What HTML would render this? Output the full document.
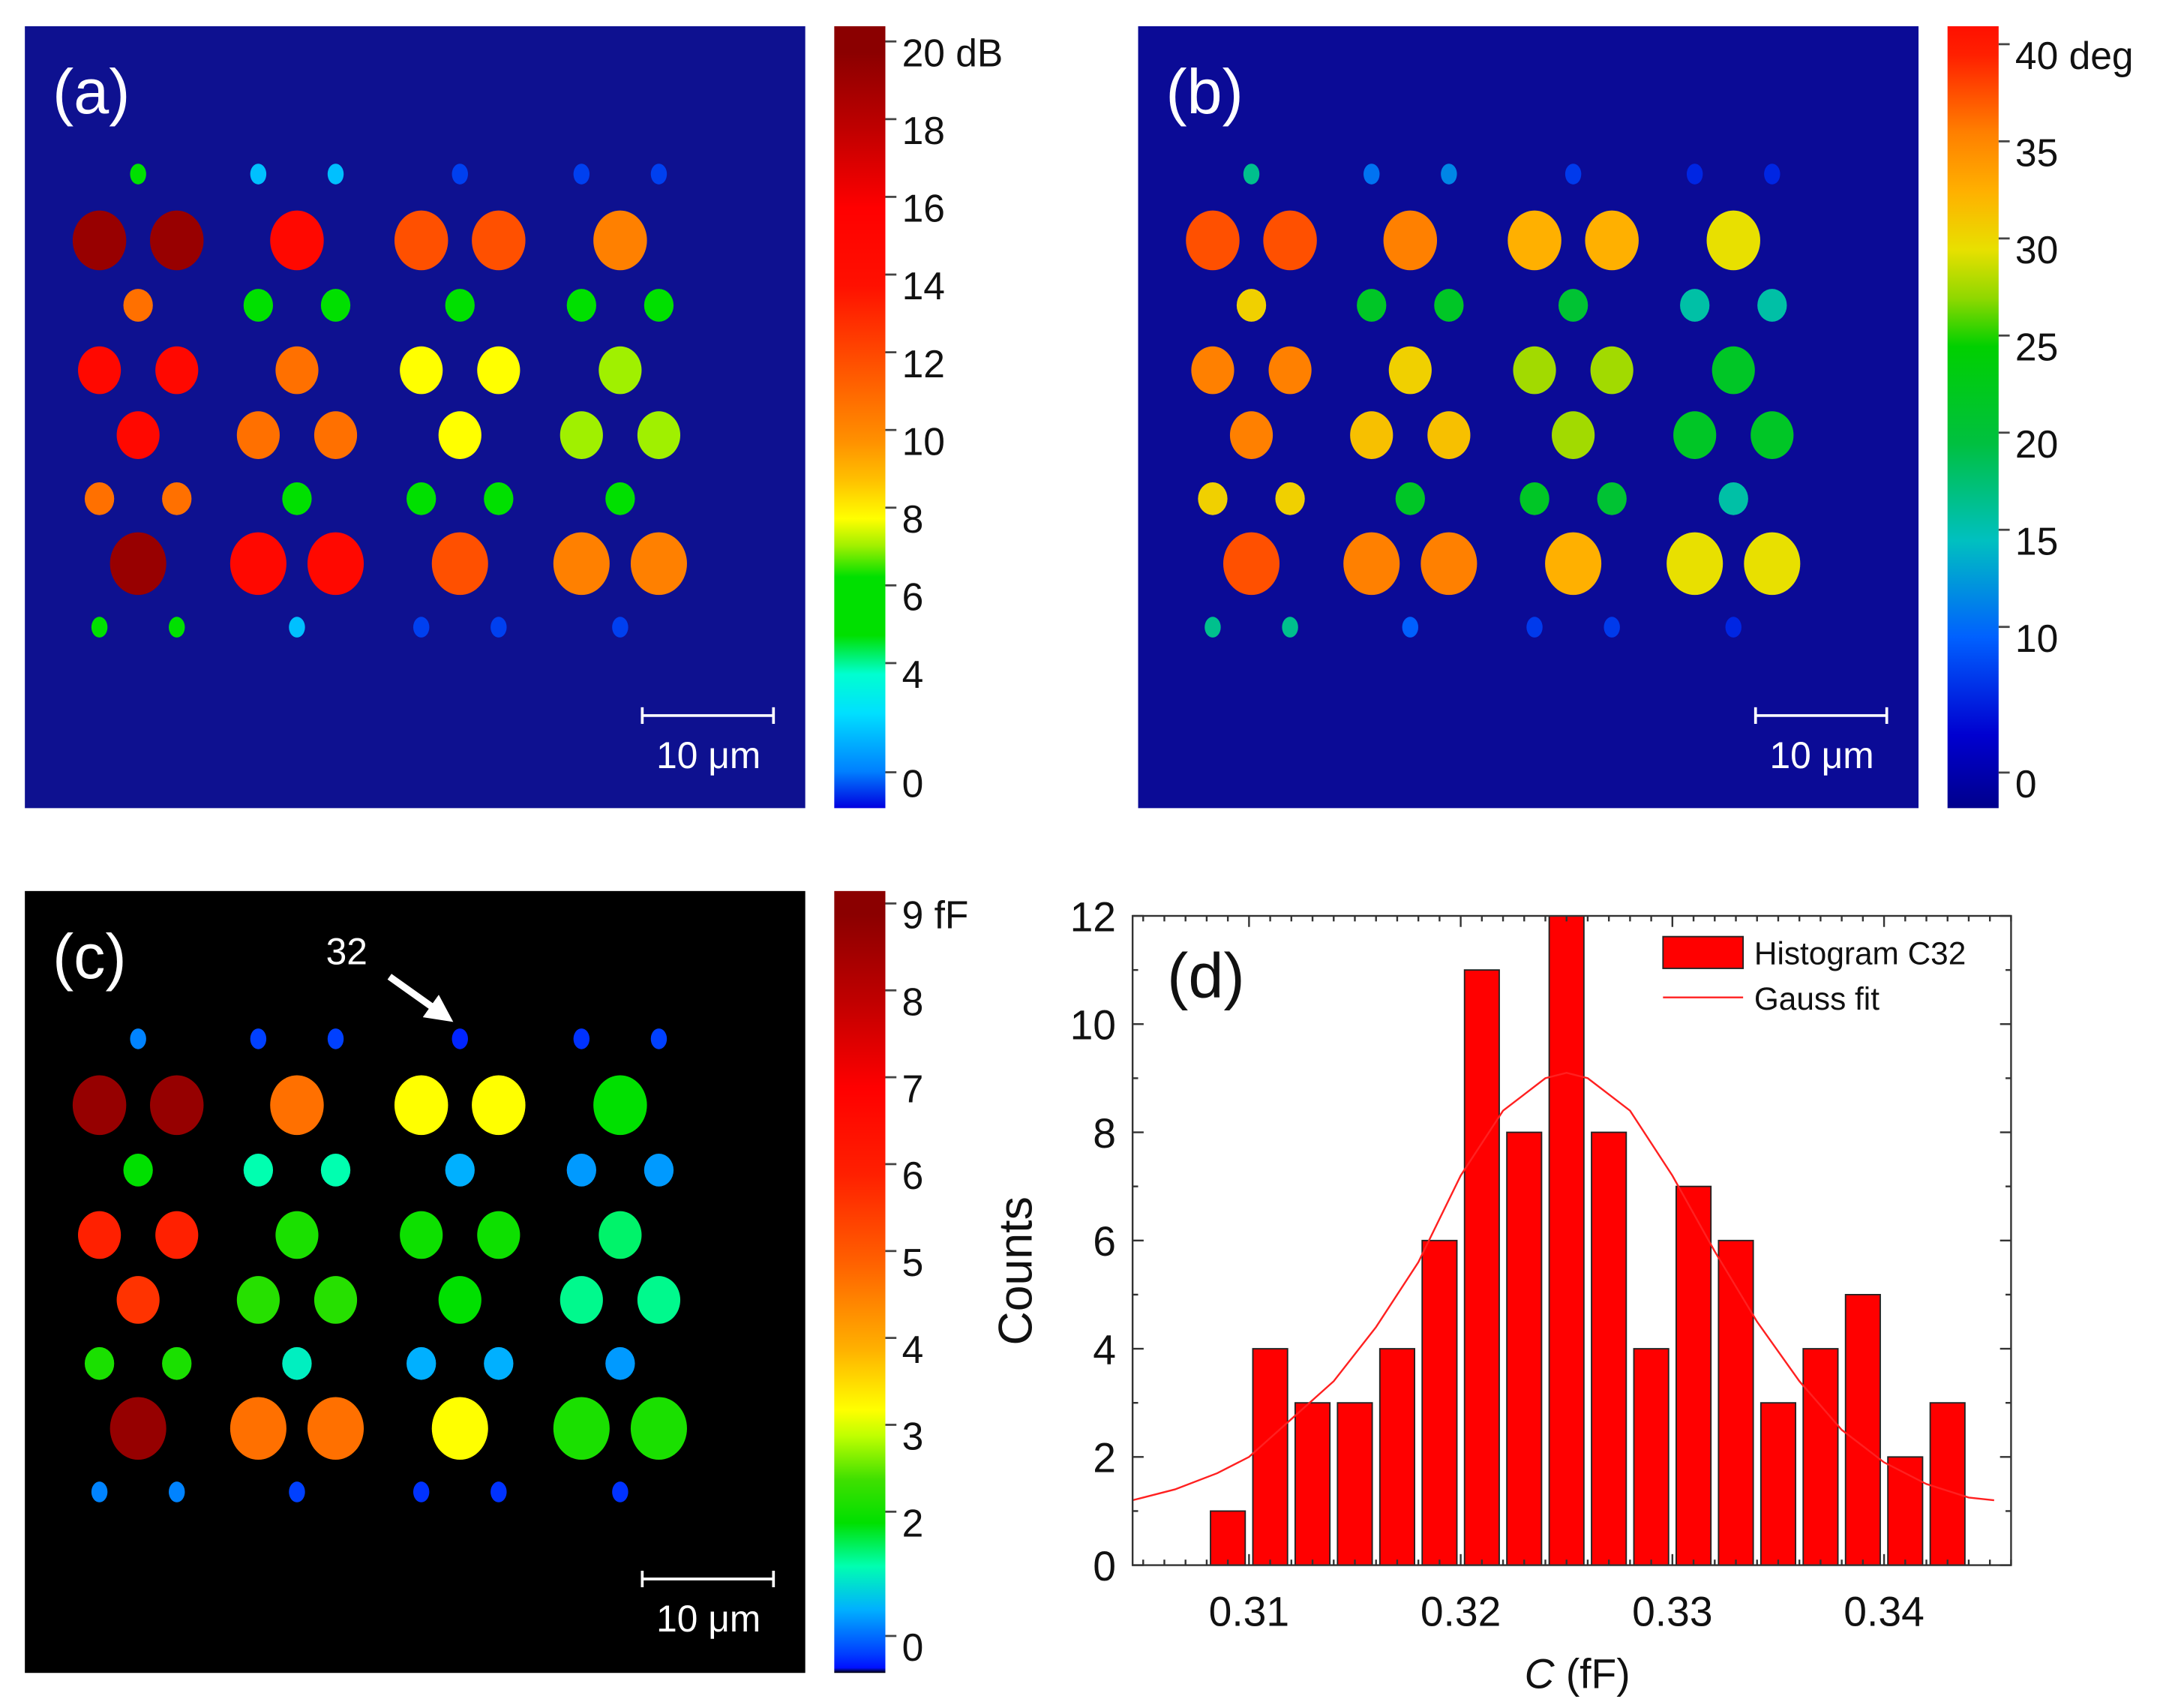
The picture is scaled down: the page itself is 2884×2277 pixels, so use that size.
<!DOCTYPE html>
<html><head><meta charset="utf-8"><style>
html,body{margin:0;padding:0;background:#fff;}
svg{display:block;}
text{font-family:"Liberation Sans",sans-serif;}
</style></head><body>
<svg id="fig" width="2884" height="2277" viewBox="0 0 1566 1236.4" preserveAspectRatio="none" xmlns="http://www.w3.org/2000/svg">
<defs>
<linearGradient id="ga" x1="0" y1="1" x2="0" y2="0"></linearGradient>
<linearGradient id="gb" x1="0" y1="1" x2="0" y2="0"></linearGradient>
<linearGradient id="gc" x1="0" y1="1" x2="0" y2="0"></linearGradient>
<marker id="ah" markerWidth="4" markerHeight="4" refX="2" refY="2" orient="auto"><path d="M0,0 L4,2 L0,4 z" fill="#fff"/></marker>
</defs>

<!-- panel a -->
<rect x="18" y="19" width="565" height="566" fill="#0e1190"/>
<g id="dots-a"></g>
<text x="38" y="82" font-size="46" fill="#fff">(a)</text>
<path d="M465,518 H560 M465,512 V524 M560,512 V524" stroke="#fff" stroke-width="2" fill="none"/>
<text x="513" y="556" font-size="27" fill="#fff" text-anchor="middle">10 μm</text>
<rect x="604" y="19" width="37" height="566" fill="url(#ga)"/>
<g id="cb-a-ticks"></g>

<!-- panel b -->
<rect x="824" y="19" width="565" height="566" fill="#0b0b96"/>
<g id="dots-b"></g>
<text x="844" y="82" font-size="46" fill="#fff">(b)</text>
<path d="M1271,518 H1366 M1271,512 V524 M1366,512 V524" stroke="#fff" stroke-width="2" fill="none"/>
<text x="1319" y="556" font-size="27" fill="#fff" text-anchor="middle">10 μm</text>
<rect x="1410" y="19" width="37" height="566" fill="url(#gb)"/>
<g id="cb-b-ticks"></g>

<!-- panel c -->
<rect x="18" y="645" width="565" height="566" fill="#000"/>
<g id="dots-c"></g>
<text x="38" y="708" font-size="46" fill="#fff">(c)</text>
<text x="236" y="698" font-size="27" fill="#fff">32</text>
<line x1="282" y1="707" x2="320" y2="734" stroke="#fff" stroke-width="5" marker-end="url(#ah)"/>
<path d="M465,1143 H560 M465,1137 V1149 M560,1137 V1149" stroke="#fff" stroke-width="2" fill="none"/>
<text x="513" y="1181" font-size="27" fill="#fff" text-anchor="middle">10 μm</text>
<rect x="604" y="645" width="37" height="566" fill="url(#gc)"/>
<g id="cb-c-ticks"></g>

<!-- panel d -->
<g id="hist"></g>
</svg>

<script>
// ---- map data ----
const dotRows = [126,174,221,268,315,361,408,454];
const dotCols = [
  [100,187,243,333,421,477],
  [72,128,215,305,361,449],
  [100,187,243,333,421,477],
  [72,128,215,305,361,449],
  [100,187,243,333,421,477],
  [72,128,215,305,361,449],
  [100,187,243,333,421,477],
  [72,128,215,305,361,449]
];
const dotSizes = [6,20,11,16,16,11,21,6];
const valuesA = [
  [5.5,2.5,2.5,1,1,1],
  [19.5,19.5,15,12,12,10.5],
  [11,6.5,6,5.5,5,5],
  [15,15,11,8,8,7.3],
  [15,11,11,8,7.3,7.3],
  [11,11,6,5.5,5.5,5],
  [19.5,15,15,12,10.5,10.5],
  [5.5,5.5,2.5,1,1,1]
];
const valuesB = [
  [17,11,12,8,7,7],
  [38,38,36,33,33,30],
  [31,22,22,21,16,16],
  [36,36,31,28,28,22],
  [36,32,32,28,22,22],
  [31,31,22,22,21,16],
  [38,36,36,33,30,30],
  [17,17,10,8,8,7]
];
const valuesC = [
  [0.8,0.5,0.5,0.4,0.45,0.5],
  [8.8,8.8,4.8,3.3,3.3,2.0],
  [2.0,1.5,1.5,1.0,0.9,0.9],
  [6,6,2.2,2.1,2.1,1.7],
  [5.7,2.3,2.3,2.0,1.6,1.6],
  [2.2,2.2,1.4,1.0,1.0,0.9],
  [8.8,4.8,4.8,3.3,2.2,2.2],
  [0.8,0.8,0.5,0.45,0.45,0.45]
];
// colormap stops [value, colour]
const stopsA = [[0.5,"#0000e0"],[1.5,"#0080ff"],[3,"#00e0ff"],[4,"#00ffd0"],[5,"#00e000"],[6.5,"#00e000"],[7.3,"#a0f000"],[8,"#ffff00"],[9,"#ffc000"],[10,"#ff9000"],[12,"#ff5000"],[14,"#ff1000"],[16,"#ff0000"],[18,"#c00000"],[20,"#8b0000"],[21,"#8b0000"]];
const stopsB = [[1.2,"#00008c"],[5,"#0000d0"],[10,"#0060ff"],[15,"#00c0c0"],[20,"#00c040"],[25,"#00d000"],[27.5,"#90d800"],[30,"#e8e000"],[33,"#ffb000"],[36,"#ff8000"],[40,"#ff2000"],[41.5,"#ff1000"]];
const stopsC = [[0.27,"#000000"],[0.33,"#0010ff"],[0.5,"#0040ff"],[1,"#00b0ff"],[1.5,"#00ffb0"],[2,"#00e000"],[2.5,"#40e000"],[3,"#c0ff00"],[3.3,"#ffff00"],[4,"#ffb000"],[5,"#ff6000"],[6,"#ff2000"],[7,"#ff0000"],[8,"#c00000"],[9,"#8b0000"],[9.3,"#8b0000"]];
const labelsA = [[20,"20 dB"],[18,"18"],[16,"16"],[14,"14"],[12,"12"],[10,"10"],[8,"8"],[6,"6"],[4,"4"],[1.19,"0"]];
const labelsB = [[40,"40 deg"],[35,"35"],[30,"30"],[25,"25"],[20,"20"],[15,"15"],[10,"10"],[2.5,"0"]];
const labelsC = [[9,"9 fF"],[8,"8"],[7,"7"],[6,"6"],[5,"5"],[4,"4"],[3,"3"],[2,"2"],[0.57,"0"]];

// ---- histogram data ----
const binCenters = [0.309,0.311,0.313,0.315,0.317,0.319,0.321,0.323,0.325,0.327,0.329,0.331,0.333,0.335,0.337,0.339,0.341,0.343];
const counts = [1,4,3,3,4,6,11,8,12,8,4,7,6,3,4,5,2,3];
const fitX = [0.3045,0.3065,0.3085,0.310,0.312,0.314,0.316,0.318,0.320,0.322,0.324,0.325,0.326,0.328,0.330,0.332,0.334,0.336,0.338,0.340,0.342,0.344,0.3452];
const fitY = [1.2,1.4,1.7,2.0,2.7,3.4,4.4,5.6,7.2,8.4,9.0,9.1,9.0,8.4,7.2,5.8,4.5,3.4,2.5,1.9,1.5,1.25,1.2];
const xTicks = [0.31,0.32,0.33,0.34];
const yTicks = [0,2,4,6,8,10,12];

const NS = "http://www.w3.org/2000/svg";
function mk(tag, attrs, parent){ const e=document.createElementNS(NS,tag); for(const k in attrs) e.setAttribute(k,attrs[k]); parent.appendChild(e); return e; }
function hex(h){return [parseInt(h.substr(1,2),16),parseInt(h.substr(3,2),16),parseInt(h.substr(5,2),16)];}
function cmap(stops, v){
  if(v<=stops[0][0]) return stops[0][1];
  for(let i=1;i<stops.length;i++){ if(v<=stops[i][0]){ const a=stops[i-1],b=stops[i]; const f=(v-a[0])/(b[0]-a[0]||1); const ca=hex(a[1]),cb=hex(b[1]); return "rgb("+ca.map((x,j)=>Math.round(x+(cb[j]-x)*f)).join(",")+")"; } }
  return stops[stops.length-1][1];
}
const yA = v=>38+(20-v)*28.125;
const yB = v=>40+(40-v)*14.06;
const yC = v=>662+(9-v)*62.9;
function buildGrad(id, stops, yOf, top, h){
  const g=document.getElementById(id);
  stops.forEach(s=>{
    const off=Math.max(0,Math.min(1,(top+h-yOf(s[0]))/h));
    mk("stop",{offset:off,"stop-color":s[1]},g);
  });
}
buildGrad("ga", stopsA, yA, 19, 566);
buildGrad("gb", stopsB, yB, 19, 566);
buildGrad("gc", stopsC, yC, 645, 566);

function drawDots(gid, vals, xoff, yoff, stops){
  const g=document.getElementById(gid);
  for(let r=0;r<dotRows.length;r++){
    for(let c=0;c<dotCols[r].length;c++){
      const rad=dotSizes[r];
      const e=mk("ellipse",{cx:dotCols[r][c]+xoff,cy:dotRows[r]+yoff,rx:rad*0.97,ry:rad*(rad<8?1.25:1.08),fill:cmap(stops,vals[r][c])},g);
      
      
    }
  }
}
drawDots("dots-a", valuesA, 0, 0, stopsA);
drawDots("dots-b", valuesB, 806, 0, stopsB);
drawDots("dots-c", valuesC, 0, 626, stopsC);

function cbTicks(gid, labels, x, yOf){
  const g=document.getElementById(gid);
  labels.forEach(l=>{
    const y=yOf(l[0]);
    const t=mk("line",{x1:x,x2:x+8,y1:y-8,y2:y-8,stroke:"#444","stroke-width":1.5},g);
    
    
    const tx=mk("text",{x:x+12,y:y+10,"font-size":28,fill:"#111"},g);
    tx.textContent=l[1];
    
    
  });
}
cbTicks("cb-a-ticks", labelsA, 641, yA);
cbTicks("cb-b-ticks", labelsB, 1447, yB);
cbTicks("cb-c-ticks", labelsC, 641, yC);

// ---- histogram ----
const ax={l:820,r:1456,t:663,b:1133};
const xMin=0.3045,xMax=0.3460,yMax=12;
const X=v=>ax.l+(v-xMin)/(xMax-xMin)*(ax.r-ax.l);
const Y=v=>ax.b-v/yMax*(ax.b-ax.t);
const hg=document.getElementById("hist");
const bw=0.00164;
binCenters.forEach((c,i)=>{
  const b=mk("rect",{x:X(c-bw/2),y:Y(counts[i]),width:X(c+bw/2)-X(c-bw/2),height:Y(0)-Y(counts[i]),fill:"#ff0000",stroke:"#222","stroke-width":1},hg);
  
  
});
const fit=mk("polyline",{points:fitX.map((x,i)=>X(x)+","+Y(fitY[i])).join(" "),fill:"none",stroke:"#ff2020","stroke-width":1.3},hg);


const frame=mk("rect",{x:ax.l,y:ax.t,width:ax.r-ax.l,height:ax.b-ax.t,fill:"none",stroke:"#333","stroke-width":1.3},hg);


for(let v=0;v<=yMax;v++){
  const len=v%2===0?8:4;
  const t1=mk("line",{x1:ax.l,x2:ax.l+len,y1:Y(v),y2:Y(v),stroke:"#333","stroke-width":1.3},hg);
  
  
  const t2=mk("line",{x1:ax.r,x2:ax.r-len,y1:Y(v),y2:Y(v),stroke:"#333","stroke-width":1.3},hg);
  
  
}
for(let k=0;k<=41;k++){
  const v=0.305+k*0.001; if(v>xMax) break;
  const major=Math.abs((v*100)%1)<1e-6||Math.abs((v*100)%1-1)<1e-6;
  const len=major?8:4;
  const t1=mk("line",{x1:X(v),x2:X(v),y1:ax.b,y2:ax.b-len,stroke:"#333","stroke-width":1.3},hg);
  
  
  const t2=mk("line",{x1:X(v),x2:X(v),y1:ax.t,y2:ax.t+len,stroke:"#333","stroke-width":1.3},hg);
  
  
}
yTicks.forEach(v=>{
  const t=mk("text",{x:ax.l-12,y:Y(v)+11,"font-size":30,"text-anchor":"end",fill:"#111"},hg);
  t.textContent=String(v);
  
  
});
xTicks.forEach(v=>{
  const t=mk("text",{x:X(v),y:ax.b+44,"font-size":30,"text-anchor":"middle",fill:"#111"},hg);
  t.textContent=v.toFixed(2);
  
  
});
const yl=mk("text",{x:0,y:0,"font-size":34,"text-anchor":"middle",fill:"#111",transform:"translate(747,920) rotate(-90)"},hg);
yl.textContent="Counts";


const xl=mk("text",{x:1142,y:1222,"font-size":30,"text-anchor":"middle",fill:"#111"},hg);
xl.innerHTML='<tspan font-style="italic">C</tspan> (fF)';


const pd=mk("text",{x:845,y:722,"font-size":46,fill:"#111"},hg);
pd.textContent="(d)";


const lb=mk("rect",{x:1204,y:678,width:58,height:23,fill:"#ff0000",stroke:"#222","stroke-width":1},hg);


const lt=mk("text",{x:1270,y:698,"font-size":23,fill:"#111"},hg);
lt.textContent="Histogram C32";


const ll=mk("line",{x1:1204,x2:1262,y1:722,y2:722,stroke:"#ff2020","stroke-width":1.3},hg);


const lt2=mk("text",{x:1270,y:731,"font-size":23,fill:"#111"},hg);
lt2.textContent="Gauss fit";


</script>
</body></html>
